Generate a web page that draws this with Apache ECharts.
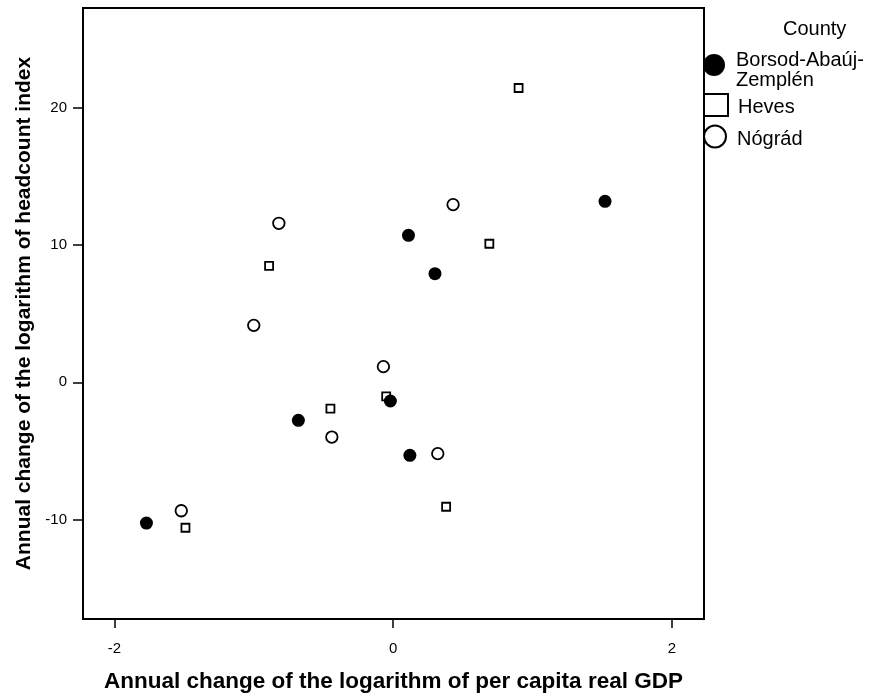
<!DOCTYPE html>
<html>
<head>
<meta charset="utf-8">
<script src="https://cdn.jsdelivr.net/npm/echarts@6/dist/echarts.min.js"></script>
<style>html,body{margin:0;padding:0;background:#fff}#c{width:869px;height:695px}</style>
</head>
<body>
<div id="c"></div>
<script>
const counties = ['Borsod-Abaúj-Zemplén', 'Heves', 'Nógrád'];
const legendLabels = ['Borsod-Abaúj-\nZemplén', 'Heves', 'Nógrád'];
const borsodX = [-1.77, -0.68, -0.02, 0.12, 0.11, 0.30, 1.52];
const borsodY = [-10.26, -2.77, -1.36, -5.32, 10.71, 7.92, 13.19];
const hevesX = [-1.49, -0.89, -0.45, -0.05, 0.38, 0.69, 0.90];
const hevesY = [-10.60, 8.48, -1.92, -1.02, -9.07, 10.10, 21.45];
const nogradX = [-1.52, -0.82, -1.00, -0.44, -0.07, 0.32, 0.43];
const nogradY = [-9.36, 11.59, 4.15, -3.99, 1.14, -5.20, 12.95];
const xTicks = [-2, 0, 2];
const yTicks = [-10, 0, 10, 20];
const xTitle = 'Annual change of the logarithm of per capita real GDP';
const yTitle = 'Annual change of the logarithm of headcount index';
const legendTitle = 'County';

const FONT = 'Arial, "Liberation Sans", sans-serif';
const pair = (xs, ys) => xs.map((x, i) => [x, ys[i]]);

function richLabel(label) {
  return '{s| }\n' + label.split('\n').map(l => '{a|' + l + '}').join('\n');
}
function makeLegend(idx, top, spacer) {
  return {
    orient: 'vertical', left: 703, top: top, padding: 0, itemWidth: 24, itemHeight: 22,
    selectedMode: false, data: [counties[idx]],
    formatter: () => richLabel(legendLabels[idx]),
    textStyle: {
      padding: [0, 0, 0, 5],
      rich: {
        s: {fontSize: 4, lineHeight: spacer, fontFamily: FONT, color: '#000'},
        a: {fontSize: 20, lineHeight: 20, fontFamily: FONT, color: '#000'}
      }
    }
  };
}

const chart = echarts.init(document.getElementById('c'), null, {renderer: 'canvas'});
chart.setOption({
  animation: false,
  backgroundColor: '#fff',
  title: {text: legendTitle, left: 783, top: 19, padding: 0,
    textStyle: {fontFamily: FONT, fontSize: 20, fontWeight: 'normal', color: '#000'}},
  legend: [
    makeLegend(0, 43, 10),
    makeLegend(1, 93, 4),
    makeLegend(2, 124.5, 5)
  ],
  grid: {left: 83, top: 8, width: 621, height: 611, show: true,
    borderColor: '#000', borderWidth: 2, containLabel: false, outerBoundsMode: 'none'},
  xAxis: {
    type: 'value', min: -2.225, max: 2.23,
    name: xTitle, nameLocation: 'middle', nameGap: 51,
    nameTextStyle: {fontFamily: FONT, fontSize: 22.5, fontWeight: 'bold', color: '#000'},
    axisLine: {show: true, onZero: false, lineStyle: {color: '#000', width: 2}},
    axisTick: {show: true, inside: false, length: 9, lineStyle: {color: '#000', width: 1.5}, customValues: xTicks},
    axisLabel: {show: true, margin: 22, fontFamily: FONT, fontSize: 15, color: '#000', customValues: xTicks},
    splitLine: {show: false}
  },
  yAxis: {
    type: 'value', min: -17.25, max: 27.28,
    name: yTitle, nameLocation: 'middle', nameGap: 47,
    nameTextStyle: {fontFamily: FONT, fontSize: 21, fontWeight: 'bold', color: '#000'},
    axisLine: {show: true, onZero: false, lineStyle: {color: '#000', width: 2}},
    axisTick: {show: true, inside: false, length: 10, lineStyle: {color: '#000', width: 1.5}, customValues: yTicks},
    axisLabel: {show: true, margin: 16, fontFamily: FONT, fontSize: 15, color: '#000', customValues: yTicks},
    splitLine: {show: false}
  },
  series: [
    {name: counties[0], type: 'scatter', symbol: 'circle', symbolSize: 13, z: 4,
      itemStyle: {color: '#000', opacity: 1}, data: pair(borsodX, borsodY)},
    {name: counties[1], type: 'scatter', symbol: 'rect', symbolSize: 8, z: 2,
      itemStyle: {color: '#fff', borderColor: '#000', borderWidth: 1.8, opacity: 1}, data: pair(hevesX, hevesY)},
    {name: counties[2], type: 'scatter', symbol: 'circle', symbolSize: 11.5, z: 3,
      itemStyle: {color: '#fff', borderColor: '#000', borderWidth: 1.8, opacity: 1}, data: pair(nogradX, nogradY)}
  ]
});
</script>
</body>
</html>
